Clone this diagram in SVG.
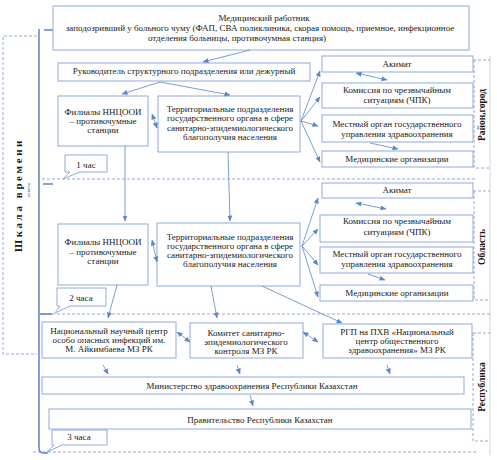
<svg xmlns="http://www.w3.org/2000/svg" width="497" height="460" viewBox="0 0 497 460">
<defs>
<marker id="ah" markerUnits="userSpaceOnUse" markerWidth="6" markerHeight="5" refX="5.5" refY="2.5" orient="auto-start-reverse">
<path d="M0,0 L6,2.5 L0,5 Z" fill="#5b87c4"/>
</marker>
</defs>
<style>
.box{fill:#fff;stroke:#8faadc;stroke-width:1}
.t{font-family:"Liberation Serif","Times New Roman",serif;font-size:9px;fill:#1a1a1a;text-anchor:middle}
.lbl{font-family:"Liberation Serif","Times New Roman",serif;font-size:9.5px;font-weight:bold;fill:#1a1a1a;text-anchor:middle}
.c{fill:none;stroke:#5b87c4;stroke-width:0.8}
.a{fill:none;stroke:#5b87c4;stroke-width:0.8;marker-end:url(#ah)}
.b{fill:none;stroke:#5b87c4;stroke-width:0.8;marker-end:url(#ah);marker-start:url(#ah)}
.d{fill:none;stroke:#8faadc;stroke-width:1;stroke-dasharray:3,2}
.solid{fill:none;stroke:#5b87c4;stroke-width:1.5}
</style>
<rect width="497" height="460" fill="#fff"/>

<!-- time scale & frames -->
<g id="frames">
<path class="d" d="M37,36 H3 V354 H37"/>
<line x1="490" y1="56" x2="490" y2="455" stroke="#c8ccd4" stroke-width="0.8"/>
<path class="d" d="M42,179 H477"/>
<path class="d" d="M42,314 H490"/>
<path class="d" d="M33,452 H477"/>
<path class="d" d="M468,60 H490 M474,60 V168 H490"/>
<path class="d" d="M468,191 H490 M474,191 V300 H490"/>
<path class="d" d="M468,333 H490 M473,333 V441 H490"/>
<path class="solid" d="M39,29 V448 Q39,453 44,453 H48"/>
<line class="solid" x1="44" y1="30" x2="55" y2="30"/>
<line class="solid" x1="43" y1="184" x2="53" y2="184"/>
<line class="solid" x1="40" y1="314" x2="52" y2="314"/>
<text class="lbl" font-size="11" letter-spacing="2.6" transform="translate(22,195) rotate(-90)" style="font-size:11px">Шкала времени</text>
<text class="t" transform="translate(30,190) rotate(-90)" style="font-size:5px">отчета</text>
<text class="lbl" transform="translate(485,115) rotate(-90)">Район,город</text>
<text class="lbl" transform="translate(485,247) rotate(-90)">Область</text>
<text class="lbl" transform="translate(485,387) rotate(-90)">Республика</text>
</g>

<!-- time callouts -->
<g id="t1">
<path class="box" d="M65,155 H107 V172 H80 L63,179 L70,172 H65 Z"/>
<text class="t" x="86" y="168">1 час</text>
</g>
<g id="t2">
<path class="box" d="M57,288 H106 V306 H70 L55,313 L60,306 H57 Z"/>
<text class="t" x="81" y="301">2 часа</text>
</g>
<g id="t3">
<path class="box" d="M52,430 H107 V445 H62 L47,452 L54,445 H52 Z"/>
<text class="t" x="79" y="440">3 часа</text>
</g>

<!-- level 1 -->
<g id="n_top">
<rect class="box" x="53" y="6" width="416" height="44"/>
<text class="t" x="264" y="21">Медицинский работник</text>
<text class="t" x="260" y="31">заподозривший у больного чуму (ФАП, СВА поликлиника, скорая помощь, приемное, инфекционное</text>
<text class="t" x="237" y="41">отделения больницы, противочумная станция)</text>
</g>
<g id="n_ruk">
<rect class="box" x="58" y="63" width="252" height="18"/>
<text class="t" x="184" y="74">Руководитель структурного подразделения или дежурный</text>
</g>
<g id="n_fil1">
<rect class="box" x="58" y="96" width="90" height="50"/>
<text class="t" x="103" y="115">Филиалы ННЦООИ</text>
<text class="t" x="103" y="124">– противочумные</text>
<text class="t" x="103" y="133">станции</text>
</g>
<g id="n_ter1">
<rect class="box" x="158" y="96" width="142" height="56"/>
<text class="t" x="230" y="112">Территориальные подразделения</text>
<text class="t" x="230" y="121">государственного органа в сфере</text>
<text class="t" x="230" y="131">санитарно-эпидемиологического</text>
<text class="t" x="230" y="140">благополучия населения</text>
</g>
<g id="n_ak1">
<rect class="box" x="322" y="56" width="151" height="16"/>
<text class="t" x="397" y="67">Акимат</text>
</g>
<g id="n_ko1">
<rect class="box" x="322" y="83" width="151" height="25"/>
<text class="t" x="397" y="93">Комиссия по чрезвычайным</text>
<text class="t" x="397" y="103">ситуациям (ЧПК)</text>
</g>
<g id="n_mo1">
<rect class="box" x="322" y="115" width="151" height="27"/>
<text class="t" x="397" y="127">Местный орган государственного</text>
<text class="t" x="397" y="137">управления здравоохранения</text>
</g>
<g id="n_me1">
<rect class="box" x="322" y="151" width="151" height="16"/>
<text class="t" x="397" y="162">Медицинские организации</text>
</g>

<!-- level 2 -->
<g id="n_fil2">
<rect class="box" x="58" y="224" width="90" height="61"/>
<text class="t" x="103" y="245">Филиалы ННЦООИ</text>
<text class="t" x="103" y="255">– противочумные</text>
<text class="t" x="103" y="264">станции</text>
</g>
<g id="n_ter2">
<rect class="box" x="157" y="223" width="143" height="63"/>
<text class="t" x="230" y="240">Территориальные подразделения</text>
<text class="t" x="230" y="249">государственного органа в сфере</text>
<text class="t" x="230" y="258">санитарно-эпидемиологического</text>
<text class="t" x="230" y="267">благополучия населения</text>
</g>
<g id="n_ak2">
<rect class="box" x="322" y="183" width="151" height="15"/>
<text class="t" x="397" y="193">Акимат</text>
</g>
<g id="n_ko2">
<rect class="box" x="320" y="215" width="153" height="27"/>
<text class="t" x="397" y="224">Комиссия по чрезвычайным</text>
<text class="t" x="397" y="235">ситуациям (ЧПК)</text>
</g>
<g id="n_mo2">
<rect class="box" x="320" y="247" width="153" height="26"/>
<text class="t" x="397" y="257">Местный орган государственного</text>
<text class="t" x="397" y="267">управления здравоохранения</text>
</g>
<g id="n_me2">
<rect class="box" x="320" y="285" width="153" height="16"/>
<text class="t" x="397" y="296">Медицинские организации</text>
</g>

<!-- level 3 -->
<g id="n_nnc">
<rect class="box" x="42" y="322" width="134" height="36"/>
<text class="t" x="109" y="334">Национальный научный центр</text>
<text class="t" x="109" y="343">особо опасных инфекций им.</text>
<text class="t" x="109" y="352">М. Айкимбаева МЗ РК</text>
</g>
<g id="n_kom">
<rect class="box" x="190" y="323" width="113" height="35"/>
<text class="t" x="246" y="336">Комитет санитарно-</text>
<text class="t" x="246" y="345">эпидемиологического</text>
<text class="t" x="246" y="354">контроля МЗ РК</text>
</g>
<g id="n_rgp">
<rect class="box" x="323" y="324" width="149" height="34"/>
<text class="t" x="397" y="335">РГП на ПХВ «Национальный</text>
<text class="t" x="397" y="344">центр общественного</text>
<text class="t" x="397" y="353">здравоохранения» МЗ РК</text>
</g>
<g id="n_min">
<rect class="box" x="42" y="377" width="422" height="17"/>
<text class="t" x="252" y="389">Министерство здравоохранения Республики Казахстан</text>
</g>
<g id="n_gov">
<rect class="box" x="49" y="409" width="422" height="20"/>
<text class="t" x="260" y="423">Правительство Республики Казахстан</text>
</g>

<!-- connectors -->
<g id="connectors">
<line class="a" x1="250" y1="50" x2="203" y2="62"/>
<line class="a" x1="160" y1="82" x2="122" y2="94"/>
<line class="a" x1="160" y1="82" x2="230" y2="95"/>
<line class="b" x1="152" y1="114" x2="157" y2="128"/>
<line class="a" x1="301" y1="121" x2="320" y2="71"/>
<line class="a" x1="301" y1="121" x2="320" y2="97"/>
<line class="a" x1="301" y1="121" x2="318" y2="126"/>
<line class="a" x1="301" y1="121" x2="320" y2="162"/>
<line class="b" x1="356" y1="73" x2="387" y2="80"/>
<line class="a" x1="370" y1="143" x2="398" y2="149"/>
<line class="a" x1="125" y1="146" x2="125" y2="221"/>
<line class="a" x1="228" y1="152" x2="230" y2="221"/>
<line class="b" x1="152" y1="240" x2="157" y2="262"/>
<line class="a" x1="302" y1="246" x2="318" y2="198"/>
<line class="a" x1="302" y1="246" x2="318" y2="229"/>
<line class="a" x1="302" y1="246" x2="318" y2="265"/>
<line class="a" x1="302" y1="246" x2="318" y2="297"/>
<line class="b" x1="356" y1="203" x2="386" y2="209"/>
<line class="a" x1="368" y1="274" x2="385" y2="280"/>
<line class="a" x1="117" y1="285" x2="108" y2="318"/>
<line class="a" x1="211" y1="286" x2="217" y2="318"/>
<line class="a" x1="262" y1="286" x2="342" y2="323"/>
<line class="b" x1="177" y1="332" x2="190" y2="342"/>
<line class="b" x1="303" y1="332" x2="318" y2="342"/>
<line class="a" x1="103" y1="365" x2="108" y2="374"/>
<line class="a" x1="237" y1="365" x2="240" y2="374"/>
<line class="a" x1="387" y1="365" x2="390" y2="374"/>
<line class="a" x1="250" y1="395" x2="253" y2="406"/>
</g>
</svg>
